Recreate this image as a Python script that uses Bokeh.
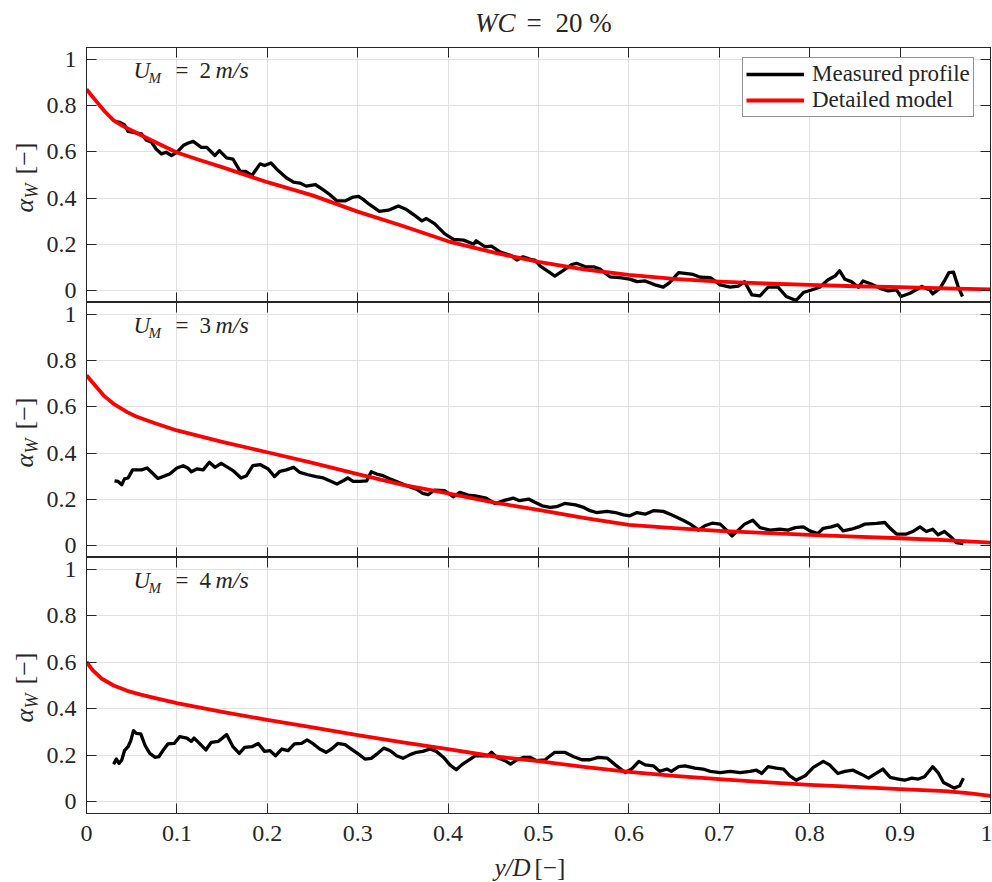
import math

from bokeh.embed import file_html
from bokeh.layouts import column, row
from bokeh.models import (CustomJSTickFormatter, FixedTicker, Label, Legend,
                          LegendItem, LinearAxis, NumeralTickFormatter, Range1d)
from bokeh.plotting import figure
from bokeh.resources import INLINE

# ---------------------------------------------------------------------------
# Water volume fraction profiles across the pipe, WC = 20 %
# ---------------------------------------------------------------------------
speeds = [2, 3, 4]  # mixture velocity U_M [m/s]

# U_M = 2 m/s
meas_2_x = [0.031, 0.037, 0.042, 0.046, 0.052, 0.057, 0.061, 0.066, 0.072, 0.077,
            0.083, 0.088, 0.094, 0.100, 0.107, 0.112, 0.118, 0.127, 0.133, 0.142,
            0.147, 0.155, 0.162, 0.170, 0.176, 0.183, 0.192, 0.197, 0.204, 0.212,
            0.221, 0.229, 0.236, 0.243, 0.253, 0.262, 0.269, 0.277, 0.286, 0.295,
            0.301, 0.306, 0.313, 0.324, 0.334, 0.345, 0.354, 0.363, 0.371, 0.376,
            0.385, 0.396, 0.406, 0.417, 0.428, 0.431, 0.441, 0.448, 0.457, 0.470,
            0.476, 0.483, 0.491, 0.496, 0.502, 0.511, 0.518, 0.528, 0.537, 0.542,
            0.552, 0.561, 0.568, 0.579, 0.590, 0.601, 0.609, 0.618, 0.629, 0.638,
            0.645, 0.655, 0.662, 0.671, 0.679, 0.690, 0.701, 0.712, 0.721, 0.728,
            0.736, 0.745, 0.754, 0.765, 0.774, 0.785, 0.793, 0.802, 0.811, 0.820,
            0.828, 0.833, 0.839, 0.846, 0.854, 0.859, 0.868, 0.878, 0.887, 0.896,
            0.901, 0.911, 0.924, 0.933, 0.936, 0.944, 0.949, 0.954, 0.959, 0.964, 0.969]
meas_2_alpha = [0.731, 0.727, 0.717, 0.688, 0.684, 0.680, 0.677, 0.651, 0.641, 0.612,
                0.591, 0.598, 0.584, 0.598, 0.627, 0.637, 0.645, 0.619, 0.619, 0.584,
                0.605, 0.574, 0.569, 0.516, 0.516, 0.498, 0.548, 0.541, 0.552, 0.519,
                0.488, 0.469, 0.465, 0.452, 0.459, 0.436, 0.416, 0.388, 0.388, 0.405,
                0.408, 0.395, 0.373, 0.343, 0.348, 0.366, 0.351, 0.326, 0.302, 0.312,
                0.290, 0.247, 0.222, 0.219, 0.202, 0.216, 0.190, 0.193, 0.169, 0.152,
                0.133, 0.147, 0.136, 0.133, 0.107, 0.083, 0.064, 0.090, 0.114, 0.119,
                0.104, 0.104, 0.094, 0.061, 0.057, 0.051, 0.040, 0.043, 0.026, 0.016,
                0.036, 0.079, 0.076, 0.071, 0.059, 0.057, 0.026, 0.016, 0.021, 0.040,
                -0.017, -0.021, 0.016, 0.016, -0.024, -0.041, -0.007, 0.004, 0.016, 0.047,
                0.064, 0.087, 0.050, 0.040, 0.016, 0.043, 0.030, 0.011, 0.000, 0.004,
                -0.024, -0.010, 0.019, 0.004, -0.013, 0.011, 0.043, 0.079, 0.081, 0.021, -0.024]
model_2_x = [0.0, 0.01, 0.02, 0.03, 0.04, 0.05, 0.07, 0.1, 0.125, 0.15, 0.2, 0.25, 0.3,
             0.35, 0.4, 0.45, 0.5, 0.55, 0.6, 0.65, 0.7, 0.75, 0.8, 0.85, 0.9, 0.95, 1.0]
model_2_alpha = [0.870, 0.822, 0.775, 0.736, 0.712, 0.692, 0.653, 0.597, 0.565, 0.534,
                 0.469, 0.412, 0.342, 0.280, 0.214, 0.166, 0.125, 0.093, 0.069, 0.052,
                 0.040, 0.032, 0.026, 0.020, 0.016, 0.011, 0.007]

# U_M = 3 m/s
meas_3_x = [0.031, 0.035, 0.039, 0.042, 0.046, 0.051, 0.055, 0.061, 0.067, 0.074,
            0.079, 0.087, 0.092, 0.100, 0.107, 0.112, 0.116, 0.122, 0.129, 0.136,
            0.142, 0.149, 0.155, 0.162, 0.171, 0.177, 0.184, 0.192, 0.201, 0.208,
            0.214, 0.221, 0.229, 0.236, 0.245, 0.254, 0.262, 0.269, 0.277, 0.284,
            0.289, 0.295, 0.302, 0.310, 0.315, 0.321, 0.328, 0.336, 0.345, 0.354,
            0.365, 0.372, 0.378, 0.385, 0.396, 0.406, 0.413, 0.422, 0.430, 0.442,
            0.452, 0.461, 0.472, 0.479, 0.489, 0.496, 0.504, 0.513, 0.520, 0.529,
            0.541, 0.550, 0.557, 0.564, 0.576, 0.585, 0.594, 0.601, 0.609, 0.618,
            0.627, 0.638, 0.647, 0.660, 0.668, 0.677, 0.684, 0.692, 0.701, 0.708,
            0.714, 0.721, 0.728, 0.737, 0.745, 0.756, 0.767, 0.776, 0.784, 0.793,
            0.800, 0.809, 0.815, 0.824, 0.831, 0.837, 0.846, 0.854, 0.861, 0.874,
            0.883, 0.889, 0.896, 0.907, 0.914, 0.922, 0.929, 0.936, 0.942, 0.949,
            0.957, 0.962, 0.970]
meas_3_alpha = [0.281, 0.278, 0.264, 0.289, 0.293, 0.328, 0.328, 0.328, 0.336, 0.310,
                0.291, 0.303, 0.310, 0.336, 0.346, 0.336, 0.320, 0.332, 0.328, 0.361,
                0.339, 0.356, 0.342, 0.325, 0.293, 0.303, 0.346, 0.351, 0.332, 0.299,
                0.322, 0.328, 0.339, 0.317, 0.307, 0.299, 0.293, 0.281, 0.267, 0.281,
                0.293, 0.278, 0.278, 0.281, 0.320, 0.310, 0.303, 0.289, 0.274, 0.260,
                0.245, 0.227, 0.221, 0.241, 0.238, 0.212, 0.231, 0.219, 0.216, 0.206,
                0.183, 0.195, 0.206, 0.195, 0.202, 0.188, 0.173, 0.166, 0.169, 0.183,
                0.177, 0.166, 0.152, 0.144, 0.149, 0.144, 0.134, 0.130, 0.144, 0.137,
                0.152, 0.149, 0.134, 0.111, 0.094, 0.068, 0.087, 0.098, 0.094, 0.068,
                0.043, 0.068, 0.094, 0.111, 0.079, 0.068, 0.072, 0.068, 0.079, 0.082,
                0.065, 0.053, 0.076, 0.082, 0.091, 0.065, 0.072, 0.082, 0.094, 0.097,
                0.101, 0.076, 0.051, 0.051, 0.062, 0.082, 0.062, 0.072, 0.048, 0.062,
                0.036, 0.014, 0.010]
model_3_x = [0.0, 0.01, 0.02, 0.03, 0.045, 0.055, 0.075, 0.1, 0.15, 0.2, 0.25, 0.3, 0.35,
             0.4, 0.45, 0.5, 0.55, 0.6, 0.65, 0.7, 0.75, 0.8, 0.85, 0.9, 0.95, 1.0]
model_3_alpha = [0.736, 0.690, 0.645, 0.613, 0.577, 0.558, 0.530, 0.498, 0.449, 0.404,
                 0.358, 0.310, 0.263, 0.227, 0.188, 0.155, 0.121, 0.091, 0.077, 0.065,
                 0.056, 0.048, 0.040, 0.033, 0.025, 0.014]

# U_M = 4 m/s
meas_4_x = [0.030, 0.033, 0.036, 0.039, 0.042, 0.046, 0.049, 0.052, 0.055, 0.060,
            0.065, 0.070, 0.076, 0.080, 0.085, 0.090, 0.097, 0.103, 0.111, 0.116,
            0.119, 0.125, 0.132, 0.138, 0.146, 0.155, 0.162, 0.169, 0.175, 0.183,
            0.190, 0.197, 0.203, 0.209, 0.216, 0.223, 0.230, 0.238, 0.244, 0.251,
            0.258, 0.265, 0.271, 0.278, 0.286, 0.293, 0.301, 0.308, 0.315, 0.321,
            0.329, 0.336, 0.343, 0.350, 0.358, 0.365, 0.372, 0.380, 0.387, 0.395,
            0.402, 0.409, 0.415, 0.422, 0.430, 0.437, 0.444, 0.448, 0.454, 0.463,
            0.469, 0.476, 0.483, 0.491, 0.498, 0.507, 0.518, 0.529, 0.539, 0.548,
            0.557, 0.566, 0.576, 0.585, 0.596, 0.603, 0.611, 0.618, 0.627, 0.634,
            0.642, 0.647, 0.655, 0.662, 0.673, 0.682, 0.690, 0.701, 0.712, 0.723,
            0.734, 0.741, 0.747, 0.754, 0.763, 0.771, 0.778, 0.785, 0.795, 0.804,
            0.815, 0.822, 0.831, 0.839, 0.848, 0.857, 0.865, 0.872, 0.881, 0.889,
            0.898, 0.905, 0.913, 0.920, 0.927, 0.936, 0.942, 0.948, 0.955, 0.960,
            0.966, 0.970]
meas_4_alpha = [0.162, 0.184, 0.165, 0.180, 0.220, 0.237, 0.263, 0.306, 0.294, 0.292,
                0.241, 0.208, 0.191, 0.194, 0.223, 0.249, 0.251, 0.280, 0.274, 0.260,
                0.274, 0.251, 0.223, 0.256, 0.260, 0.289, 0.237, 0.208, 0.234, 0.237,
                0.251, 0.217, 0.220, 0.198, 0.227, 0.220, 0.249, 0.251, 0.266, 0.249,
                0.227, 0.213, 0.227, 0.251, 0.246, 0.227, 0.205, 0.184, 0.187, 0.205,
                0.231, 0.220, 0.198, 0.187, 0.203, 0.213, 0.217, 0.227, 0.217, 0.191,
                0.159, 0.138, 0.159, 0.177, 0.198, 0.198, 0.198, 0.213, 0.191, 0.177,
                0.162, 0.180, 0.191, 0.191, 0.177, 0.180, 0.213, 0.213, 0.194, 0.181,
                0.181, 0.191, 0.188, 0.159, 0.126, 0.141, 0.174, 0.159, 0.155, 0.131,
                0.141, 0.131, 0.151, 0.155, 0.145, 0.141, 0.131, 0.126, 0.131, 0.126,
                0.131, 0.136, 0.122, 0.151, 0.145, 0.141, 0.112, 0.093, 0.112, 0.148,
                0.174, 0.159, 0.122, 0.131, 0.136, 0.119, 0.102, 0.119, 0.141, 0.105,
                0.098, 0.093, 0.102, 0.098, 0.108, 0.151, 0.126, 0.083, 0.069, 0.059,
                0.069, 0.102]
model_4_x = [0.0, 0.007, 0.017, 0.03, 0.045, 0.06, 0.075, 0.1, 0.15, 0.2, 0.25, 0.3, 0.35,
             0.4, 0.45, 0.5, 0.55, 0.6, 0.65, 0.7, 0.75, 0.8, 0.85, 0.9, 0.95, 0.975, 1.0]
model_4_alpha = [0.601, 0.565, 0.529, 0.500, 0.477, 0.461, 0.447, 0.424, 0.387, 0.352,
                 0.320, 0.287, 0.256, 0.227, 0.196, 0.175, 0.150, 0.129, 0.112, 0.098,
                 0.085, 0.073, 0.064, 0.055, 0.046, 0.038, 0.026]

x_ticks = [0.0, 0.1, 0.2, 0.3, 0.4, 0.5, 0.6, 0.7, 0.8, 0.9, 1.0]
y_ticks = [0.0, 0.2, 0.4, 0.6, 0.8, 1.0]
legend_labels = ["Measured profile", "Detailed model"]

# ---------------------------------------------------------------------------
# Page geometry and styling (pixels, measured from the page's top-left corner)
# ---------------------------------------------------------------------------
INK = "#262626"
GRID = "#e1e1e1"
SERIF = "Liberation Serif"
MID = 0.34                         # em offset from the baseline to the text middle
Y_LO, Y_HI = -0.05, 1.05
PAGE_W, PAGE_H = 992, 882
STRIP_W = 42                       # strip holding the vertical axis titles
TICK_BORDER = 44                   # room for the y tick labels
FRAME_L = STRIP_W + TICK_BORDER    # left edge of every plotting frame
FRAME_R_BORDER = 2
FRAME_W = PAGE_W - FRAME_L - FRAME_R_BORDER
TITLE_H = 47
FRAME_H = [255, 255, 256]
X_TICK_BORDER = 40
FRAME_TOPS = [TITLE_H, TITLE_H + FRAME_H[0], TITLE_H + FRAME_H[0] + FRAME_H[1]]
PANELS_BOTTOM = FRAME_TOPS[2] + FRAME_H[2] + X_TICK_BORDER


def style_axis(ax, ticks, labelled, standoff=0):
    ax.ticker = FixedTicker(ticks=ticks)
    ax.major_tick_in = 10
    ax.major_tick_out = 0
    ax.major_tick_line_color = INK
    ax.major_tick_line_width = 1
    ax.minor_tick_line_color = None
    ax.axis_line_color = INK
    ax.axis_line_width = 1
    if labelled:
        ax.formatter = NumeralTickFormatter(format="0.[0]")
        ax.major_label_text_font = SERIF
        ax.major_label_text_font_size = "24px"
        ax.major_label_text_color = INK
        ax.major_label_standoff = standoff
    else:
        ax.formatter = CustomJSTickFormatter(code="return ''")
        ax.major_label_text_font_size = "0px"
        ax.major_label_standoff = 0


def label(text, x, y, size, italic=False, align="left", angle=0.0):
    return Label(x=x, y=y, text=text, text_font=SERIF, text_font_size=f"{size}px",
                 text_font_style="italic" if italic else "normal",
                 text_color=INK, text_align=align, text_baseline="middle",
                 angle=angle)


def text_canvas(width, height, left, top):
    """A blank figure whose data coordinates are page pixels (y pointing down)."""
    c = figure(width=width, height=height, x_range=Range1d(left, left + width),
               y_range=Range1d(top + height, top), output_backend="svg",
               toolbar_location=None, min_border=0, title=None,
               x_axis_location=None, y_axis_location=None,
               background_fill_color="white", border_fill_color="white")
    c.outline_line_color = None
    c.grid.visible = False
    return c


def make_panel(k, mx, ma, fx, fa, speed):
    frame_h = FRAME_H[k]
    bottom = X_TICK_BORDER if k == 2 else 0
    p = figure(width=PAGE_W - STRIP_W, height=frame_h + bottom,
               x_range=Range1d(0, 1), y_range=Range1d(Y_LO, Y_HI),
               output_backend="svg", toolbar_location=None, title=None,
               min_border_left=TICK_BORDER, min_border_right=FRAME_R_BORDER,
               min_border_top=0, min_border_bottom=bottom,
               background_fill_color="white", border_fill_color="white")
    p.outline_line_color = INK
    p.outline_line_width = 1

    style_axis(p.xaxis[0], x_ticks, k == 2, standoff=12)
    style_axis(p.yaxis[0], y_ticks, True, standoff=10)
    top_axis = LinearAxis()
    style_axis(top_axis, x_ticks, False)
    p.add_layout(top_axis, "above")
    right_axis = LinearAxis()
    style_axis(right_axis, y_ticks, False)
    p.add_layout(right_axis, "right")

    p.xgrid.ticker = FixedTicker(ticks=x_ticks)
    p.ygrid.ticker = FixedTicker(ticks=y_ticks)
    p.grid.grid_line_color = GRID
    p.grid.grid_line_width = 1

    r_meas = p.line(mx, ma, line_color="black", line_width=3.3, line_join="round")
    r_model = p.line(fx, fa, line_color="#ff0000", line_width=3.8, line_join="round")

    # panel annotation U_M = v m/s; r is the baseline, in pixels below the frame top
    def at(px, r, size):
        r_mid = r - MID * size
        return (px - FRAME_L) / FRAME_W, Y_HI - r_mid / frame_h * (Y_HI - Y_LO)

    for text, px, r, size, italic in [("U", 133, 31, 23, True), ("M", 148, 36, 15, True),
                                      ("=", 175, 31, 23, False),
                                      (str(speed), 199, 31, 23, False),
                                      ("m/s", 215, 31, 24, True)]:
        x, y = at(px, r, size)
        p.add_layout(label(text, x, y, size, italic))
    return p, r_meas, r_model


p1, m1, f1 = make_panel(0, meas_2_x, meas_2_alpha, model_2_x, model_2_alpha, speeds[0])
p2, _, _ = make_panel(1, meas_3_x, meas_3_alpha, model_3_x, model_3_alpha, speeds[1])
p3, _, _ = make_panel(2, meas_4_x, meas_4_alpha, model_4_x, model_4_alpha, speeds[2])

legend = Legend(
    items=[LegendItem(label=legend_labels[0], renderers=[m1]),
           LegendItem(label=legend_labels[1], renderers=[f1])],
    location=(656, 185),
    label_text_font=SERIF, label_text_font_size="23px", label_text_color=INK,
    glyph_width=58, glyph_height=20, label_height=20, label_standoff=8,
    padding=3, spacing=0, margin=0,
    border_line_color=INK, border_line_width=1,
    background_fill_color="white", background_fill_alpha=1.0,
)
p1.add_layout(legend)


def on_baseline(canvas, text, x, base, size, italic=False, align="left"):
    canvas.add_layout(label(text, x, base - MID * size, size, italic, align))


# figure title: WC = 20 %
title_row = text_canvas(PAGE_W, TITLE_H, 0, 0)
on_baseline(title_row, "WC", 515, 32, 27, italic=True, align="right")
on_baseline(title_row, "=", 526, 32, 27)
on_baseline(title_row, "20 %", 555, 32, 27)

# vertical axis titles: alpha_W [-] beside each panel (text reads upwards, so the
# middle of a line sits left of its baseline)
ylab = text_canvas(STRIP_W, PANELS_BOTTOM - TITLE_H, 0, TITLE_H)
up = math.pi / 2
for top in FRAME_TOPS:
    ylab.add_layout(label("α", 33 - MID * 26, top + 165, 26, italic=True, angle=up))
    ylab.add_layout(label("W", 38 - MID * 18, top + 151, 18, italic=True, angle=up))
    ylab.add_layout(label("[−]", 33 - MID * 26, top + 127, 26, angle=up))

# horizontal axis title: y/D [-]
xlab = text_canvas(PAGE_W, PAGE_H - PANELS_BOTTOM, 0, PANELS_BOTTOM)
on_baseline(xlab, "y/D", 494, 875, 25, italic=True)
on_baseline(xlab, "[−]", 534, 875, 25)

layout = column(title_row, row(ylab, column(p1, p2, p3)), xlab)
open("out.html", "w").write(file_html(layout, INLINE))
